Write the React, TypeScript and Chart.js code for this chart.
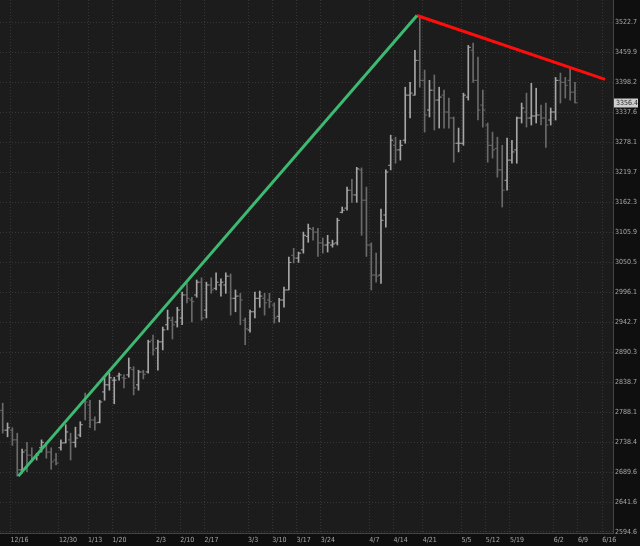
import React, { useEffect, useRef } from 'react';
import { Chart, registerables } from 'chart.js';

Chart.register(...registerables);

// ---- Data (daily OHLC bars) ----
const opens = [
  2791, 2758, 2758, 2742, 2693, 2725, 2717, 2714, 2729, 2733,
  2722, 2709, 2729, 2737, 2742, 2738, 2750, 2808, 2800, 2775,
  2771, 2822, 2834, 2842, 2849, 2846, 2851, 2860, 2834, 2856,
  2856, 2911, 2897, 2908, 2938, 2946, 2943, 2950, 2991, 2982,
  2991, 3014, 2964, 3009, 3003, 3009, 3009, 3025, 2985, 2989,
  2946, 2929, 2961, 2985, 2985, 2982, 2973, 2953, 2982, 3000,
  3063, 3058, 3073, 3098, 3111, 3106, 3086, 3082, 3082, 3086,
  3143, 3151, 3185, 3176, 3224, 3166, 3082, 3027, 3027, 3138,
  3233, 3272, 3263, 3282, 3372, 3372, 3443, 3402, 3342, 3382,
  3362, 3372, 3338, 3326, 3276, 3276, 3368, 3464, 3402, 3352,
  3312, 3272, 3266, 3224, 3204, 3243, 3263, 3326, 3338, 3326,
  3330, 3332, 3326, 3322, 3338, 3402, 3398, 3402, 3378,
];
const highs = [
  2803, 2770, 2762, 2753, 2727, 2738, 2729, 2720, 2742, 2738,
  2729, 2720, 2742, 2767, 2753, 2763, 2772, 2820, 2808, 2780,
  2808, 2846, 2854, 2847, 2854, 2851, 2880, 2865, 2859, 2859,
  2911, 2920, 2911, 2934, 2964, 2952, 2969, 2996, 3012, 2987,
  3018, 3022, 3014, 3022, 3031, 3020, 3031, 3029, 3000, 2994,
  2950, 2964, 2996, 2998, 2994, 2994, 2977, 2985, 3005, 3060,
  3076, 3069, 3106, 3121, 3115, 3113, 3095, 3100, 3091, 3132,
  3153, 3191, 3206, 3229, 3228, 3191, 3086, 3067, 3149, 3224,
  3292, 3288, 3282, 3388, 3398, 3464, 3537, 3423, 3402, 3413,
  3388, 3382, 3366, 3328, 3306, 3376, 3474, 3479, 3450, 3382,
  3316, 3298, 3288, 3272, 3286, 3282, 3328, 3356, 3376, 3396,
  3386, 3352, 3356, 3346, 3408, 3417, 3408, 3427, 3398,
];
const lows = [
  2753, 2747, 2733, 2683, 2688, 2690, 2706, 2709, 2722, 2712,
  2694, 2701, 2725, 2737, 2709, 2730, 2747, 2775, 2762, 2758,
  2770, 2808, 2825, 2802, 2842, 2829, 2847, 2817, 2825, 2844,
  2854, 2885, 2859, 2894, 2929, 2913, 2934, 2938, 2977, 2943,
  2987, 2946, 2950, 2994, 3000, 2989, 2994, 2955, 2961, 2938,
  2903, 2925, 2950, 2969, 2955, 2968, 2941, 2943, 2969, 3000,
  3049, 3050, 3067, 3087, 3091, 3061, 3067, 3069, 3078, 3082,
  3142, 3147, 3162, 3162, 3100, 3061, 3000, 3014, 3012, 3115,
  3224, 3237, 3243, 3276, 3326, 3372, 3388, 3298, 3328, 3302,
  3306, 3306, 3306, 3239, 3259, 3272, 3362, 3398, 3322, 3308,
  3239, 3247, 3210, 3153, 3185, 3237, 3237, 3316, 3308, 3312,
  3316, 3312, 3268, 3312, 3322, 3356, 3366, 3362, 3356,
];
const closes = [
  2758, 2762, 2742, 2693, 2722, 2717, 2712, 2717, 2738, 2722,
  2706, 2704, 2737, 2755, 2738, 2745, 2767, 2805, 2775, 2770,
  2805, 2834, 2846, 2842, 2851, 2845, 2863, 2829, 2856, 2852,
  2908, 2894, 2908, 2929, 2950, 2938, 2964, 2991, 2985, 2979,
  3014, 2950, 3009, 3000, 3014, 3014, 3025, 2985, 2989, 2982,
  2931, 2961, 2985, 2989, 2977, 2979, 2950, 2982, 3000, 3050,
  3058, 3067, 3100, 3113, 3106, 3086, 3082, 3086, 3084, 3128,
  3147, 3185, 3176, 3226, 3166, 3082, 3027, 3025, 3128, 3220,
  3282, 3263, 3272, 3372, 3376, 3443, 3402, 3332, 3382, 3362,
  3368, 3338, 3326, 3276, 3276, 3372, 3470, 3402, 3342, 3342,
  3272, 3263, 3224, 3185, 3243, 3259, 3326, 3346, 3326, 3330,
  3332, 3326, 3312, 3338, 3402, 3398, 3392, 3378, 3356.4,
];

// Week-start bar indices and their date labels
const weekTickBars = [2, 12, 18, 23, 32, 37, 42, 51, 56, 61, 66, 76, 81, 87, 95, 100, 105, 114, 119, 124];
const weekTickLabels = ['12/16', '12/30', '1/13', '1/20', '2/3', '2/10', '2/17', '3/3', '3/10', '3/17', '3/24', '4/7', '4/14', '4/21', '5/5', '5/12', '5/19', '6/2', '6/9', '6/16'];

// Price axis labels
const priceTicks = [3522.7, 3459.9, 3398.2, 3337.6, 3278.1, 3219.7, 3162.3, 3105.9, 3050.5, 2996.1, 2942.7, 2890.3, 2838.7, 2788.1, 2738.4, 2689.6, 2641.6, 2594.6];

// Trend lines (bar index, price)
const upTrendX = [3.22, 85.42];
const upTrendY = [2683, 3537];
const downTrendX = [85.42, 124.2];
const downTrendY = [3537, 3404];

const lastPrice = 3356.4;

// ---- Styles ----
const FONT = "'Liberation Sans Narrow', 'DejaVu Sans Condensed', sans-serif";
const UP_COLOR = '#a6a6a6';
const DOWN_COLOR = '#6a6a6a';
const GRID_COLOR = '#363636';

export default function App() {
  const canvasRef = useRef<HTMLCanvasElement | null>(null);

  useEffect(() => {
    document.body.style.margin = '0';
    const canvas = canvasRef.current;
    if (!canvas) return;

    const barColors = opens.map((o, i) => (closes[i] >= o ? UP_COLOR : DOWN_COLOR));

    const bgPlugin = {
      id: 'bgPlugin',
      beforeDraw(chart: any) {
        const { ctx, chartArea, width, height } = chart;
        ctx.save();
        ctx.fillStyle = '#0f0f0f';
        ctx.fillRect(0, 0, width, height);
        ctx.fillStyle = '#1c1c1c';
        ctx.fillRect(chartArea.left, chartArea.top, chartArea.right - chartArea.left, chartArea.bottom - chartArea.top);
        ctx.restore();
      },
      afterDraw(chart: any) {
        const { ctx, chartArea } = chart;
        const y = chart.scales.y.getPixelForValue(lastPrice);
        const x = chartArea.right + 1;
        ctx.save();
        ctx.fillStyle = '#cfcfcf';
        ctx.fillRect(x, Math.round(y) - 4.5, 24, 9);
        ctx.fillStyle = '#2a2a2a';
        ctx.font = `7px ${FONT}`;
        ctx.textBaseline = 'middle';
        ctx.textAlign = 'left';
        ctx.fillText(lastPrice.toFixed(1), x + 2, Math.round(y));
        ctx.restore();
      },
    };

    const chart = new Chart(canvas, {
      type: 'bar',
      data: {
        datasets: [
          {
            type: 'line',
            data: upTrendX.map((x, i) => ({ x, y: upTrendY[i] })),
            borderColor: '#3dba72',
            borderWidth: 3,
            pointRadius: 0,
            order: 0,
          } as any,
          {
            type: 'line',
            data: downTrendX.map((x, i) => ({ x, y: downTrendY[i] })),
            borderColor: '#ff0d0d',
            borderWidth: 3,
            pointRadius: 0,
            order: 0,
          } as any,
          {
            type: 'line',
            data: opens.map((v, i) => ({ x: i - 0.28, y: v })),
            showLine: false,
            pointStyle: 'line',
            pointRadius: 1.15,
            pointBorderWidth: 1,
            pointBorderColor: barColors,
            order: 1,
          } as any,
          {
            type: 'line',
            data: closes.map((v, i) => ({ x: i + 0.28, y: v })),
            showLine: false,
            pointStyle: 'line',
            pointRadius: 1.15,
            pointBorderWidth: 1,
            pointBorderColor: barColors,
            order: 1,
          } as any,
          {
            type: 'bar',
            data: highs.map((h, i) => ({ x: i, y: [lows[i], h] })),
            backgroundColor: barColors,
            borderWidth: 0,
            barThickness: 1,
            grouped: false,
            order: 2,
          } as any,
        ],
      },
      options: {
        animation: false,
        responsive: false,
        events: [],
        layout: { padding: 0, autoPadding: false },
        plugins: {
          legend: { display: false },
          tooltip: { enabled: false },
        },
        scales: {
          x: {
            type: 'linear',
            position: 'bottom',
            offset: false,
            min: -0.557,
            max: 125.84,
            afterBuildTicks: (scale: any) => {
              scale.ticks = weekTickBars.map((b) => ({ value: b - 0.4 }));
            },
            afterFit: (scale: any) => {
              scale.height = 13;
              scale.paddingLeft = 0;
              scale.paddingRight = 0;
            },
            ticks: {
              autoSkip: false,
              maxRotation: 0,
              align: 'start',
              padding: 3,
              color: '#a8a8a8',
              font: { family: FONT, size: 7 },
              callback: (_v: any, idx: number) => weekTickLabels[idx],
            },
            grid: {
              color: GRID_COLOR,
              drawTicks: false,
              offset: false,
            },
            border: { display: true, color: '#444444', width: 1, dash: [1, 2] },
          } as any,
          y: {
            type: 'logarithmic',
            position: 'right',
            min: 2593,
            max: 3570,
            afterBuildTicks: (scale: any) => {
              scale.ticks = priceTicks.map((v) => ({ value: v }));
            },
            afterFit: (scale: any) => {
              scale.width = 27;
              scale.paddingTop = 0;
              scale.paddingBottom = 0;
            },
            ticks: {
              autoSkip: false,
              padding: 2,
              color: '#a8a8a8',
              font: { family: FONT, size: 7 },
              callback: (v: any) => Number(v).toFixed(1),
            },
            grid: {
              color: GRID_COLOR,
              drawTicks: false,
            },
            border: { display: true, color: '#444444', width: 1, dash: [1, 2] },
          } as any,
        },
      },
      plugins: [bgPlugin],
    });

    return () => {
      chart.destroy();
    };
  }, []);

  return (
    <div style={{ position: 'fixed', left: 0, top: 0, width: 640, height: 546, background: '#0f0f0f' }}>
      <canvas ref={canvasRef} width={640} height={546} style={{ display: 'block', width: 640, height: 546 }} />
    </div>
  );
}
